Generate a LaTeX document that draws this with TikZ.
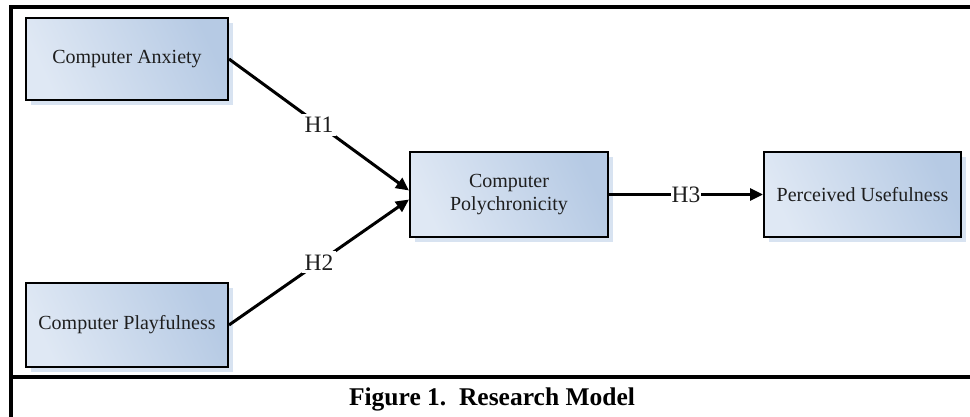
\documentclass[tikz,border=0pt]{standalone}
\usepackage{fontspec}
\setmainfont{Liberation Serif}
\usetikzlibrary{shadows,arrows.meta}
\definecolor{boxlight}{HTML}{DFE8F4}
\definecolor{boxdark}{HTML}{B6CAE4}
\definecolor{shadowblue}{HTML}{D8E3F1}
\definecolor{txt}{HTML}{1E1E1E}
\tikzset{
  model/.style={draw=black, line width=2pt, shading=axis, left color=boxlight, right color=boxdark, shading angle=115,
    drop shadow={shadow xshift=5pt, shadow yshift=-5pt, fill=shadowblue, opacity=1},
    align=center, text=txt, font=\fontsize{20}{22.5}\selectfont, inner sep=0pt},
  link/.style={line width=3pt, -{Triangle[length=13pt,width=12pt]}},
  hlabel/.style={fill=white, text=txt, font=\fontsize{23.5}{26}\selectfont, inner sep=3pt},
  frame/.style={line width=4pt, black}
}
\begin{document}
\begin{tikzpicture}[x=1pt,y=-1pt]
\useasboundingbox (0,0) rectangle (970,417);
\fill[white] (0,0) rectangle (970,417);
% frame
\coordinate (ftl) at (11,7);
\coordinate (ftr) at (972,7);
\coordinate (fbl) at (11,419);
\coordinate (fml) at (11,377);
\coordinate (fmr) at (972,377);
\draw[frame] (ftr) -- (ftl) -- (fbl);
\draw[frame] (fml) -- (fmr);
% boxes
\node[model, minimum width=202pt, minimum height=82pt] (ca) at (127,59) {Computer Anxiety};
\node[model, minimum width=202pt, minimum height=84pt] (cp) at (127,325) {Computer Playfulness};
\node[model, minimum width=198pt, minimum height=85pt] (poly) at (509,194.5) {Computer\\Polychronicity};
\node[model, minimum width=197pt, minimum height=85pt] (pu) at (862.5,194.5) {Perceived Usefulness};
% connectors
\draw[link] (ca.east) -- node[hlabel, pos=0.5]{H1} ([yshift=4pt]poly.west);
\draw[link] (cp.east) -- node[hlabel, pos=0.5]{H2} ([yshift=-5pt]poly.west);
\draw[link] (poly.east) -- node[hlabel, pos=0.5, inner sep=1pt]{H3} (pu.west);
% caption
\node[font=\bfseries\fontsize{25.5}{28}\selectfont] (cap) at (492,399) {Figure 1.\ \ Research Model};
\end{tikzpicture}
\end{document}
